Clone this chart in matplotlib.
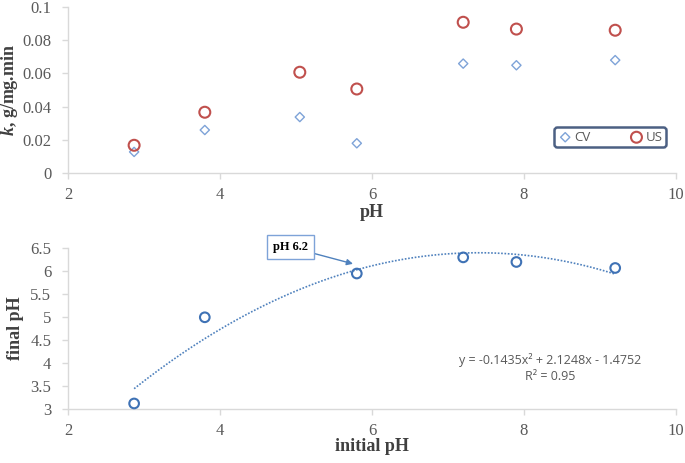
import numpy as np
import matplotlib
matplotlib.use("Agg")
import matplotlib.pyplot as plt

plt.rcParams["font.family"] = ["Liberation Serif", "DejaVu Serif"]
plt.rcParams["mathtext.fontset"] = "custom"
plt.rcParams["mathtext.bfit"] = "Liberation Serif:italic:bold"
plt.rcParams["mathtext.rm"] = "Liberation Serif:bold"

# ---- data ----
ph_top = [2.87, 3.80, 5.05, 5.80, 7.20, 7.90, 9.20]
k_cv = [0.0127, 0.0259, 0.0337, 0.0179, 0.0659, 0.0649, 0.0680]
k_us = [0.0167, 0.0366, 0.0607, 0.0506, 0.0908, 0.0867, 0.0860]

ph_init = [2.87, 3.80, 5.80, 7.20, 7.90, 9.20]
ph_final = [3.12, 4.99, 5.94, 6.29, 6.19, 6.06]
trend_coef = [-0.1435, 2.1248, -1.4752]
eq_text = "y = -0.1435x² + 2.1248x - 1.4752"
r2_text = "R² = 0.95"

top_yticks = [0, 0.02, 0.04, 0.06, 0.08, 0.1]
top_yticklabels = ["0", "0.02", "0.04", "0.06", "0.08", "0.1"]
bot_yticks = [3, 3.5, 4, 4.5, 5, 5.5, 6, 6.5]
bot_yticklabels = ["3", "3.5", "4", "4.5", "5", "5.5", "6", "6.5"]
xticks = [2, 4, 6, 8, 10]

W, H = 685, 463
fig = plt.figure(figsize=(W / 100, H / 100), dpi=100)

sans = "Open Sans"
tick_col = "#595959"
lab_col = "#404040"
axis_col = "#d9d9d9"

def ax_rect(l, t, r, b):
    return [l / W, 1 - b / H, (r - l) / W, (b - t) / H]

def style(ax):
    for s in ["top", "right"]:
        ax.spines[s].set_visible(False)
    for s in ["left", "bottom"]:
        ax.spines[s].set_color(axis_col)
        ax.spines[s].set_linewidth(1.0)
    ax.tick_params(axis="both", colors=axis_col, length=4, width=1.0,
                   labelcolor=tick_col, labelsize=12)
    ax.tick_params(axis="y", pad=8)
    ax.tick_params(axis="x", pad=6)

# top axes
ax1 = fig.add_axes(ax_rect(68, 7, 676, 173))
ax1.scatter(ph_top, k_cv, marker="D", s=22, facecolors="none",
            edgecolors="#7ea3d8", linewidths=1.0, label="CV", zorder=3, clip_on=False)
ax1.scatter(ph_top, k_us, marker="o", s=62, facecolors="none",
            edgecolors="#c0504d", linewidths=1.5, label="US", zorder=3, clip_on=False)
ax1.set_xlim(2, 10)
ax1.set_ylim(0, 0.1)
ax1.set_xticks(xticks)
ax1.set_xticklabels([str(v) for v in xticks])
ax1.set_yticks(top_yticks)
ax1.set_yticklabels(top_yticklabels)
style(ax1)
ax1.set_xlabel("pH", fontweight="bold", fontsize=13, color=lab_col)
ax1.set_ylabel(r"$\mathbfit{k}$, g/mg.min", fontweight="bold",
               fontsize=13, color=lab_col)
ax1.xaxis.set_label_coords(0.5, -(204 - 173) / 166, transform=ax1.transAxes)
ax1.yaxis.set_label_coords((10 - 68) / 608, 0.5)
ax1.xaxis.label.set_va("top")
ax1.yaxis.label.set_va("center")
leg = ax1.legend(loc="lower left", bbox_to_anchor=((554 - 68) / 608, (173 - 147) / 166,
                                                   (666 - 554) / 608, 21 / 166),
                 ncol=2, mode="expand", frameon=True, fancybox=True,
                 prop={"family": sans, "size": 9.5}, handletextpad=0.1,
                 borderpad=0.25, columnspacing=1.0, handlelength=1.2,
                 borderaxespad=0)
leg.get_frame().set_edgecolor("#1f3864")
leg.get_frame().set_linewidth(1.8)
for t in leg.get_texts():
    t.set_color(tick_col)

# bottom axes
ax2 = fig.add_axes(ax_rect(68, 247.7, 676, 409))
ax2.scatter(ph_init, ph_final, marker="o", s=48, facecolors="none",
            edgecolors="#3f72b5", linewidths=1.5, zorder=3, clip_on=False)
xs = np.linspace(min(ph_init), max(ph_init), 200)
ax2.plot(xs, np.polyval(trend_coef, xs), linestyle=(0, (1, 1)), color="#4f81bd",
         linewidth=1.2)
ax2.set_xlim(2, 10)
ax2.set_ylim(3, 6.5)
ax2.set_xticks(xticks)
ax2.set_xticklabels([str(v) for v in xticks])
ax2.set_yticks(bot_yticks)
ax2.set_yticklabels(bot_yticklabels)
style(ax2)
ax2.set_xlabel("initial pH", fontweight="bold", fontsize=13, color=lab_col)
ax2.set_ylabel("final pH", fontweight="bold", fontsize=13, color=lab_col)
ax2.xaxis.set_label_coords(0.5, -(438 - 409) / 161.3, transform=ax2.transAxes)
ax2.yaxis.set_label_coords((15 - 68) / 608, 0.5)
ax2.xaxis.label.set_va("top")
ax2.yaxis.label.set_va("center")
ax2.text(8.34, 4.06, eq_text, ha="center", va="center", fontfamily=sans,
         fontsize=9, color=tick_col)
ax2.text(8.34, 3.70, r2_text, ha="center", va="center", fontfamily=sans,
         fontsize=9, color=tick_col)
ax2.annotate("pH 6.2", xy=(5.75, 6.15), xytext=(4.93, 6.51),
             ha="center", va="center", fontweight="bold",
             fontsize=9, color="black", annotation_clip=False,
             bbox=dict(boxstyle="square,pad=0.5", fc="white", ec="#7ea3d8", lw=1.0),
             arrowprops=dict(arrowstyle="-|>", color="#4f81bd", lw=1.0,
                             shrinkA=0, shrinkB=0, mutation_scale=9))

fig.savefig("out.png", dpi=100)
